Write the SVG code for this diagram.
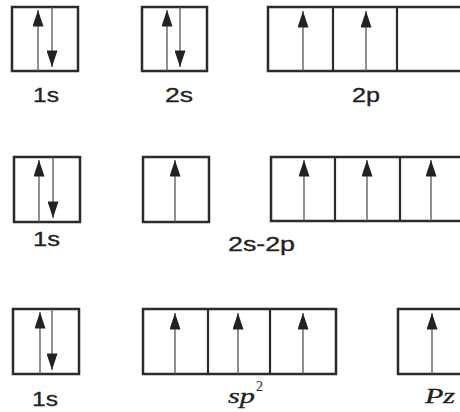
<svg xmlns="http://www.w3.org/2000/svg" width="460" height="412" viewBox="0 0 460 412">
<defs>
<marker id="head" viewBox="0 0 18 12" refX="18" refY="6" markerWidth="18" markerHeight="11" markerUnits="userSpaceOnUse" orient="auto">
<path d="M0,0 L18,6 L0,12 Z" fill="#222"/>
</marker>
<style>
.box{fill:none;stroke:#2b2b2b;stroke-width:2.5}
.div{stroke:#2b2b2b;stroke-width:2.2}
.e{stroke:#555;stroke-width:1.3;marker-end:url(#head)}
.lbl{font-family:"Liberation Sans",Arial,sans-serif;font-size:20px;fill:#222;stroke:#222;stroke-width:0.3}
.it{font-family:"Liberation Serif","Times New Roman",serif;font-style:italic;font-size:21px;fill:#222;stroke:#222;stroke-width:0.3}
.sup{font-family:"Liberation Serif","Times New Roman",serif;font-size:14px;fill:#222}
</style>
</defs>
<rect width="460" height="412" fill="#fff"/>

<g id="row1-1s">
<rect class="box" x="12" y="7" width="66" height="64"/>
<line class="e" x1="38" y1="71" x2="38" y2="10"/>
<line class="e" x1="52" y1="7" x2="52" y2="67"/>
</g>
<g id="row1-2s">
<rect class="box" x="142" y="7" width="65" height="64"/>
<line class="e" x1="167" y1="71" x2="167" y2="10"/>
<line class="e" x1="180" y1="7" x2="180" y2="67"/>
</g>
<g id="row1-2p">
<rect class="box" x="268" y="7" width="200" height="64"/>
<line class="div" x1="333" y1="7" x2="333" y2="71"/>
<line class="div" x1="397" y1="7" x2="397" y2="71"/>
<line class="e" x1="303" y1="71" x2="303" y2="11"/>
<line class="e" x1="366" y1="71" x2="366" y2="11"/>
</g>

<g id="row2-1s">
<rect class="box" x="14" y="157" width="66" height="65"/>
<line class="e" x1="39" y1="222" x2="39" y2="160"/>
<line class="e" x1="53" y1="157" x2="53" y2="218"/>
</g>
<g id="row2-2s">
<rect class="box" x="143" y="157" width="66" height="65"/>
<line class="e" x1="175" y1="222" x2="175" y2="160"/>
</g>
<g id="row2-2p">
<rect class="box" x="271" y="157" width="200" height="64"/>
<line class="div" x1="335" y1="157" x2="335" y2="221"/>
<line class="div" x1="400" y1="157" x2="400" y2="221"/>
<line class="e" x1="304" y1="221" x2="304" y2="160"/>
<line class="e" x1="367" y1="221" x2="367" y2="160"/>
<line class="e" x1="431" y1="221" x2="431" y2="160"/>
</g>

<g id="row3-1s">
<rect class="box" x="13" y="309" width="66" height="65"/>
<line class="e" x1="40" y1="374" x2="40" y2="312"/>
<line class="e" x1="52" y1="309" x2="52" y2="370"/>
</g>
<g id="row3-sp2">
<rect class="box" x="143" y="309" width="193" height="65"/>
<line class="div" x1="208" y1="309" x2="208" y2="374"/>
<line class="div" x1="270" y1="309" x2="270" y2="374"/>
<line class="e" x1="175" y1="374" x2="175" y2="313"/>
<line class="e" x1="238" y1="374" x2="238" y2="313"/>
<line class="e" x1="303" y1="374" x2="303" y2="313"/>
</g>
<g id="row3-pz">
<rect class="box" x="398" y="309" width="72" height="65"/>
<line class="e" x1="432" y1="374" x2="432" y2="313"/>
</g>

<g id="labels">
<text class="lbl" x="33" y="102" textLength="26" lengthAdjust="spacingAndGlyphs">1s</text>
<text class="lbl" x="165" y="102" textLength="28" lengthAdjust="spacingAndGlyphs">2s</text>
<text class="lbl" x="352" y="102" textLength="28" lengthAdjust="spacingAndGlyphs">2p</text>
<text class="lbl" x="33" y="246" textLength="27" lengthAdjust="spacingAndGlyphs">1s</text>
<text class="lbl" x="228" y="251" textLength="67" lengthAdjust="spacingAndGlyphs">2s-2p</text>
<text class="lbl" x="32" y="406" textLength="26" lengthAdjust="spacingAndGlyphs">1s</text>
<text class="it" x="228" y="403" textLength="27" lengthAdjust="spacingAndGlyphs">sp</text>
<text class="sup" x="256" y="391">2</text>
<text class="it" x="425" y="403" textLength="30" lengthAdjust="spacingAndGlyphs">Pz</text>
</g>
</svg>
